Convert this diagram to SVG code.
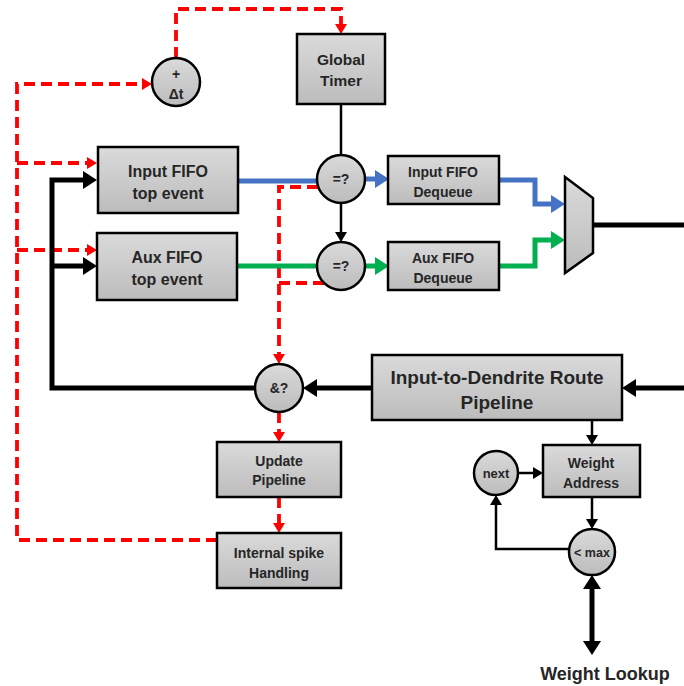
<svg xmlns="http://www.w3.org/2000/svg" width="684" height="686" viewBox="0 0 684 686">
<style>
.box{fill:url(#g);stroke:#000;stroke-width:2.5}
.t{font-family:"Liberation Sans",Arial,sans-serif;font-weight:bold;fill:#262626;text-anchor:middle}
.red{fill:none;stroke:#f00;stroke-width:3.8;stroke-dasharray:11 6}
.thick{fill:none;stroke:#000;stroke-width:5}
.thin{fill:none;stroke:#000;stroke-width:2.5}
.blue{fill:none;stroke:#4472c4;stroke-width:5}
.green{fill:none;stroke:#00b050;stroke-width:5}
</style>
<defs>
<linearGradient id="g" x1="0" y1="0" x2="0" y2="1">
<stop offset="0" stop-color="#dadada"/>
<stop offset="1" stop-color="#bcbcbc"/>
</linearGradient>
<marker id="ar" markerUnits="userSpaceOnUse" markerWidth="10" markerHeight="12" refX="0" refY="6" orient="auto" viewBox="0 0 10 12"><path d="M0,0 L10,6 L0,12 z" fill="#f00"/></marker>
<marker id="ak" markerUnits="userSpaceOnUse" markerWidth="14" markerHeight="18" refX="0" refY="9" orient="auto" viewBox="0 0 14 18"><path d="M0,0 L14,9 L0,18 z" fill="#000"/></marker>
<marker id="aks" markerUnits="userSpaceOnUse" markerWidth="14" markerHeight="18" refX="0" refY="9" orient="auto-start-reverse" viewBox="0 0 14 18"><path d="M0,0 L14,9 L0,18 z" fill="#000"/></marker>
<marker id="at" markerUnits="userSpaceOnUse" markerWidth="10" markerHeight="12" refX="0" refY="6" orient="auto" viewBox="0 0 10 12"><path d="M0,0 L10,6 L0,12 z" fill="#000"/></marker>
<marker id="ab" markerUnits="userSpaceOnUse" markerWidth="14" markerHeight="18" refX="0" refY="9" orient="auto" viewBox="0 0 14 18"><path d="M0,0 L14,9 L0,18 z" fill="#4472c4"/></marker>
<marker id="ag" markerUnits="userSpaceOnUse" markerWidth="14" markerHeight="18" refX="0" refY="9" orient="auto" viewBox="0 0 14 18"><path d="M0,0 L14,9 L0,18 z" fill="#00b050"/></marker>
</defs>
<g id="connectors">
<path class="red" d="M176,58 V9 H341 V24" marker-end="url(#ar)"/>
<path class="red" d="M217,540 H17 V84 H142" marker-end="url(#ar)"/>
<path class="red" d="M17,163 H87" marker-end="url(#ar)"/>
<path class="red" d="M17,250 H87" marker-end="url(#ar)"/>
<path class="red" d="M318,187 H279 V354" marker-end="url(#ar)"/>
<path class="red" d="M324,283 H279"/>
<path class="red" d="M279,412 V432" marker-end="url(#ar)"/>
<path class="red" d="M279,497 V523" marker-end="url(#ar)"/>
<path class="thick" d="M255,388 H52 V180 H83" marker-end="url(#ak)"/>
<path class="thick" d="M52,266 H83" marker-end="url(#ak)"/>
<path class="thick" d="M684,388 H636" marker-end="url(#ak)"/>
<path class="thick" d="M372,388 H317" marker-end="url(#ak)"/>
<path class="thick" d="M593,225 H684"/>
<path class="thick" d="M592,589 V641" marker-start="url(#aks)" marker-end="url(#aks)"/>
<path class="thin" d="M341,104 V155"/>
<path class="thin" d="M341,203 V232" marker-end="url(#at)"/>
<path class="thin" d="M592,420 V435" marker-end="url(#at)"/>
<path class="thin" d="M518,473 H533" marker-end="url(#at)"/>
<path class="thin" d="M592,497 V519" marker-end="url(#at)"/>
<path class="thin" d="M569,549 H496 V505" marker-end="url(#at)"/>
<path class="blue" d="M238,181 H317"/>
<path class="blue" d="M365,179 H375" marker-end="url(#ab)"/>
<path class="blue" d="M499,180 H535 V204 H551" marker-end="url(#ab)"/>
<path class="green" d="M237,266 H317"/>
<path class="green" d="M365,266 H375" marker-end="url(#ag)"/>
<path class="green" d="M499,266 H535 V240 H551" marker-end="url(#ag)"/>
</g>
<g id="global-timer"><rect class="box" x="297" y="34" width="88" height="70"/><text class="t" x="341" y="65" font-size="15.5">Global</text><text class="t" x="341" y="86" font-size="15.5">Timer</text></g>
<g id="add-dt"><circle class="box" cx="176" cy="82" r="24"/><text class="t" x="176" y="79" font-size="14">+</text><text class="t" x="176" y="99" font-size="14">Δt</text></g>
<g id="input-fifo-top"><rect class="box" x="98" y="147" width="140" height="66"/><text class="t" x="168" y="177" font-size="16">Input FIFO</text><text class="t" x="168" y="199" font-size="16">top event</text></g>
<g id="aux-fifo-top"><rect class="box" x="97" y="233" width="140" height="67"/><text class="t" x="167" y="263" font-size="16">Aux FIFO</text><text class="t" x="167" y="285" font-size="16">top event</text></g>
<g id="eq1"><circle class="box" cx="341" cy="179" r="24"/><text class="t" x="341" y="184" font-size="14">=?</text></g>
<g id="eq2"><circle class="box" cx="341" cy="266" r="24"/><text class="t" x="341" y="271" font-size="14">=?</text></g>
<g id="input-fifo-deq"><rect class="box" x="388" y="156" width="111" height="48"/><text class="t" x="443" y="177" font-size="14">Input FIFO</text><text class="t" x="443" y="197" font-size="14">Dequeue</text></g>
<g id="aux-fifo-deq"><rect class="box" x="388" y="242" width="111" height="48"/><text class="t" x="443" y="263" font-size="14">Aux FIFO</text><text class="t" x="443" y="283" font-size="14">Dequeue</text></g>
<g id="mux"><polygon class="box" points="565,177 593,198 593,253 565,273"/></g>
<g id="and"><circle class="box" cx="279" cy="388" r="24"/><text class="t" x="279" y="393" font-size="14">&amp;?</text></g>
<g id="route"><rect class="box" x="372" y="355" width="250" height="65"/><text class="t" x="497" y="384" font-size="19">Input-to-Dendrite Route</text><text class="t" x="497" y="409" font-size="19">Pipeline</text></g>
<g id="update"><rect class="box" x="217" y="442" width="124" height="55"/><text class="t" x="279" y="466" font-size="14">Update</text><text class="t" x="279" y="485" font-size="14">Pipeline</text></g>
<g id="spike"><rect class="box" x="217" y="533" width="124" height="55"/><text class="t" x="279" y="558" font-size="14">Internal spike</text><text class="t" x="279" y="578" font-size="14">Handling</text></g>
<g id="weight-address"><rect class="box" x="543" y="445" width="97" height="52"/><text class="t" x="591" y="468" font-size="14">Weight</text><text class="t" x="591" y="488" font-size="14">Address</text></g>
<g id="next"><circle class="box" cx="496" cy="473" r="22"/><text class="t" x="496" y="478" font-size="13">next</text></g>
<g id="max"><circle class="box" cx="592" cy="552" r="23"/><text class="t" x="592" y="557" font-size="12.5">&lt; max</text></g>
<g id="weight-lookup"><text class="t" x="605" y="680" font-size="18">Weight Lookup</text></g>
</svg>
